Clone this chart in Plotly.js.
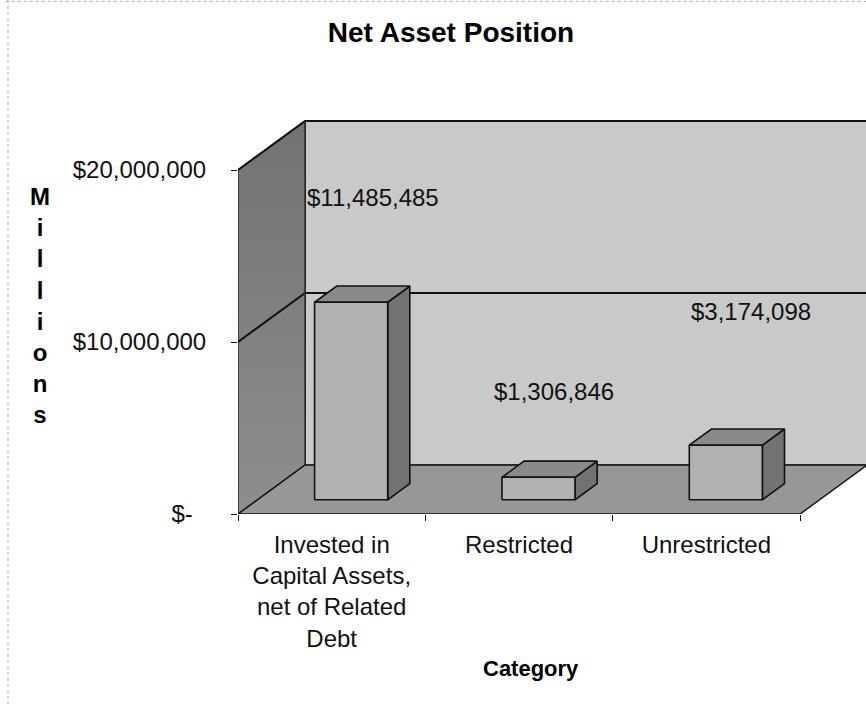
<!DOCTYPE html>
<html>
<head>
<meta charset="utf-8">
<script src="https://cdn.plot.ly/plotly-3.0.1.min.js"></script>
<style>html,body{margin:0;padding:0;background:#fff;}#chart{width:866px;height:704px;}</style>
</head>
<body>
<div id="chart"></div>
<script>
// ---- data ----
const categories = ["Invested in<br>Capital Assets,<br>net of Related<br>Debt", "Restricted", "Unrestricted"];
const values = [11485485, 1306846, 3174098];
const valueLabels = ["$11,485,485", "$1,306,846", "$3,174,098"];
const yTickVals = [0, 10000000, 20000000];
const yTickText = ["$-\u00a0\u00a0", "$10,000,000", "$20,000,000"];
const chartTitle = "Net Asset Position";
const xTitle = "Category";
const yTitle = "Millions";

// ---- 3D look geometry (styling) ----
const DX = 0.358;          // depth offset in category units
const DY = 2849000;        // depth offset in value units
const WALL_TOP = 20000000; // top of walls (last tick)
const BAR_W = 0.39;
const D0 = 0.29, D1 = 0.62; // bar depth span
const Y_MAX = 22965000;
const X_MIN = -0.5, X_MAX = 2.852;
const LABEL_SHIFT = [[41, 119], [35, 100], [45, 148]]; // label offsets in px

const FONT = "Liberation Sans, Arial, sans-serif";
const traces = [];
function poly(xs, ys, fill, lw, extra) {
  const t = {x: xs.concat([xs[0]]), y: ys.concat([ys[0]]), type: 'scatter', mode: 'lines',
    fill: 'toself', fillcolor: fill, line: {color: '#111', width: lw}, hoverinfo: 'skip', showlegend: false};
  Object.assign(t, extra || {});
  traces.push(t);
}
function line(xs, ys, lw) {
  traces.push({x: xs, y: ys, type: 'scatter', mode: 'lines', line: {color: '#111', width: lw},
    hoverinfo: 'skip', showlegend: false});
}
const nCat = categories.length;
const xL = -0.5, xR = nCat - 0.5;
// back wall
poly([xL + DX, xR + DX, xR + DX, xL + DX], [DY, DY, WALL_TOP + DY, WALL_TOP + DY], '#c9c9c9', 1.2);
// left wall
poly([xL, xL + DX, xL + DX, xL], [0, DY, WALL_TOP + DY, WALL_TOP], '#858585', 1.2,
  {fillgradient: {type: 'vertical', colorscale: [[0, '#8e8e8e'], [1, '#727272']]}});
// floor
poly([xL, xR, xR + DX, xL + DX], [0, 0, DY, DY], '#979797', 1.4);
// gridlines on walls
yTickVals.slice(1).forEach(v => {
  line([xL, xL + DX, xR + DX], [v, v + DY, v + DY], 2);
});
// bars
values.forEach((v, i) => {
  const x0 = i - BAR_W / 2 + D0 * DX, x1 = x0 + BAR_W;
  const y0 = D0 * DY, yT = v + D0 * DY;
  const ddx = (D1 - D0) * DX, ddy = (D1 - D0) * DY;
  poly([x1, x1 + ddx, x1 + ddx, x1], [y0, y0 + ddy, yT + ddy, yT], '#727272', 1.6);
  poly([x0, x1, x1 + ddx, x0 + ddx], [yT, yT, yT + ddy, yT + ddy], '#8a8a8a', 1.6);
  poly([x0, x1, x1, x0], [y0, y0, yT, yT], '#b1b1b1', 1.6);
});

const annotations = values.map((v, i) => ({
  x: i, y: v, xref: 'x', yref: 'y', text: valueLabels[i], showarrow: false,
  xshift: LABEL_SHIFT[i][0], yshift: LABEL_SHIFT[i][1],
  font: {family: FONT, size: 24, color: '#111'}
}));
annotations.push({
  xref: 'paper', yref: 'paper', x: (40 - 238) / 628, y: 0.529, xanchor: 'center', yanchor: 'middle',
  text: '<b>' + yTitle.split('').join('<br>') + '</b>', showarrow: false,
  font: {family: FONT, size: 24, color: '#000'}
});
annotations.push({
  xref: 'paper', yref: 'paper', x: (531 - 238) / 628, y: (514 - 668) / 393, xanchor: 'center', yanchor: 'middle',
  text: '<b>' + xTitle + '</b>', showarrow: false,
  font: {family: FONT, size: 22, color: '#000'}
});

const layout = {
  width: 866, height: 704,
  margin: {l: 238, r: 0, t: 119, b: 190, pad: 0},
  paper_bgcolor: '#fff', plot_bgcolor: '#fff',
  showlegend: false,
  title: {text: '<b>' + chartTitle + '</b>', x: 451 / 866, xref: 'container', xanchor: 'center',
    y: 1 - 32 / 704, yref: 'container', yanchor: 'middle',
    font: {family: FONT, size: 28, color: '#000'}},
  xaxis: {range: [X_MIN, X_MAX], tickvals: [0, 1, 2], ticktext: categories, ticks: '',
    showgrid: false, zeroline: false, showline: false, fixedrange: true,
    ticklabelstandoff: 14,
    tickfont: {family: FONT, size: 24, color: '#111'},
    minor: {tickvals: [-0.5, 0.5, 1.5, 2.5], ticks: 'outside', ticklen: 6, tickcolor: '#111', tickwidth: 1, showgrid: false}},
  yaxis: {range: [0, Y_MAX], tickvals: yTickVals, ticktext: yTickText, ticks: 'outside', ticklen: 6,
    tickcolor: '#111', showgrid: false, zeroline: false, showline: false, fixedrange: true,
    ticklabelstandoff: 20,
    tickfont: {family: FONT, size: 24, color: '#111'}},
  annotations: annotations,
  shapes: [
    {type: 'line', xref: 'paper', yref: 'paper', x0: -0.37, x1: 1, y0: (514 - 4) / 393, y1: (514 - 4) / 393,
      line: {color: '#aaa', width: 1, dash: 'dot'}},
    {type: 'line', xref: 'paper', yref: 'paper', x0: (8 - 238) / 628, x1: (8 - 238) / 628, y0: (514 - 704) / 393, y1: (514 - 2) / 393,
      line: {color: '#aaa', width: 1, dash: 'dot'}}
  ]
};
Plotly.newPlot('chart', traces, layout, {displayModeBar: false, staticPlot: true});
</script>
</body>
</html>
